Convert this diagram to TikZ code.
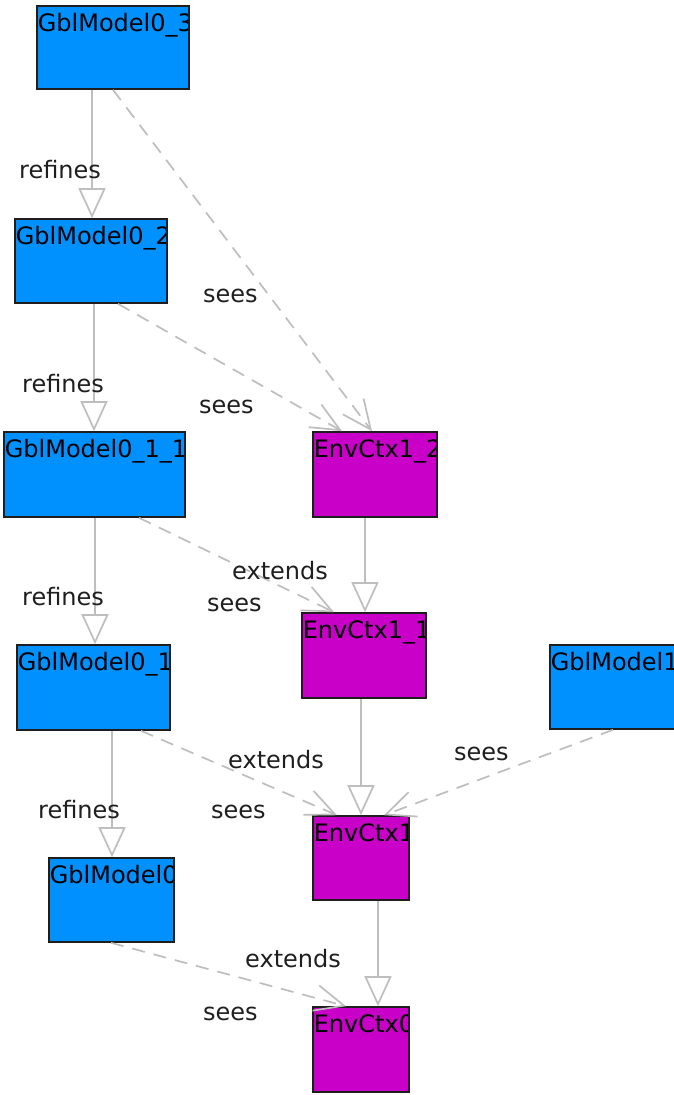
\documentclass[tikz,border=0pt]{standalone}
\usepackage{fontspec}
\setmainfont{DejaVu Sans}
\usetikzlibrary{arrows.meta}
\definecolor{blu}{RGB}{0,145,255}
\definecolor{mag}{RGB}{200,0,200}
\definecolor{edg}{RGB}{190,190,190}
\definecolor{bord}{RGB}{30,30,30}
\tikzset{
  lbl/.style={path picture={\node[anchor=base west, inner sep=0pt, text=black] at ([yshift=-25pt]path picture bounding box.north west) {#1};}},
  gbox/.style={draw=bord, line width=1.6pt, fill=blu, inner sep=0pt},
  ebox/.style={draw=bord, line width=1.6pt, fill=mag, inner sep=0pt},
  refedge/.style={draw=edg, line width=1.7pt, -{Triangle[open, length=30pt, width=27pt, fill=white]}},
  seeedge/.style={draw=edg, line width=1.7pt, dash pattern=on 13pt off 9pt, -{Straight Barb[length=29pt, width=26pt]}},
  elabel/.style={anchor=base west, inner sep=0pt, text=black!88}
}
\begin{document}
\begin{tikzpicture}[x=1pt, y=-1pt, font=\fontsize{24}{28}\selectfont]
\useasboundingbox[fill=white] (0,0) rectangle (673,1095);
% boxes
\node[gbox, minimum width=152pt, minimum height=83pt, lbl={GblModel0\_3}] (g3) at (113,47.5) {};
\node[gbox, minimum width=152pt, minimum height=84pt, lbl={GblModel0\_2}] (g2) at (91,261) {};
\node[gbox, minimum width=181pt, minimum height=85pt, lbl={GblModel0\_1\_1}] (g11) at (94.5,474.5) {};
\node[ebox, minimum width=124pt, minimum height=85pt, lbl={EnvCtx1\_2}] (e12) at (375,474.5) {};
\node[ebox, minimum width=124pt, minimum height=85pt, lbl={EnvCtx1\_1}] (e11) at (364,655.5) {};
\node[gbox, minimum width=153pt, minimum height=85pt, lbl={GblModel0\_1}] (g1) at (93.5,687.5) {};
\node[gbox, minimum width=125pt, minimum height=84pt, lbl={GblModel0}] (g0) at (111.5,900) {};
\node[ebox, minimum width=96pt, minimum height=84pt, lbl={EnvCtx1}] (e1) at (361,858) {};
\node[ebox, minimum width=96pt, minimum height=85pt, lbl={EnvCtx0}] (e0) at (361,1049.5) {};
\node[gbox, minimum width=126pt, minimum height=84pt, lbl={GblModel1}] (gm1) at (613,687) {};
% edges
\draw[refedge] ([xshift=-21pt]g3.south) -- ([xshift=1pt]g2.north);
\draw[seeedge] (g3.south) -- ([xshift=-3pt]e12.north);
\draw[refedge] ([xshift=3pt]g2.south) -- ([xshift=-0.5pt]g11.north);
\draw[seeedge] ([xshift=27pt]g2.south) -- ([xshift=-33pt]e12.north);
\draw[refedge] ([xshift=0.5pt]g11.south) -- ([xshift=1.5pt]g1.north);
\draw[seeedge] ([xshift=44.5pt]g11.south) -- ([xshift=-30pt]e11.north);
\draw[refedge] ([xshift=-10pt]e12.south) -- ([xshift=1pt]e11.north);
\draw[refedge] ([xshift=18.5pt]g1.south) -- ([xshift=0.5pt]g0.north);
\draw[seeedge] ([xshift=47.5pt]g1.south) -- ([xshift=-24pt]e1.north);
\draw[refedge] ([xshift=-3pt]e11.south) -- (e1.north);
\draw[seeedge] (gm1.south) -- ([xshift=23pt]e1.north);
\draw[seeedge] ([xshift=-0.5pt]g0.south) -- ([xshift=-15pt]e0.north);
\draw[refedge] ([xshift=17pt]e1.south) -- ([xshift=17pt]e0.north);
% labels
\node[elabel] (l1) at (19,178) {refines};
\node[elabel] (l2) at (203,302) {sees};
\node[elabel] (l3) at (22,392) {refines};
\node[elabel] (l4) at (199,413) {sees};
\node[elabel] (l5) at (22,605) {refines};
\node[elabel] (l6) at (207,611) {sees};
\node[elabel] (l7) at (232,579) {extends};
\node[elabel] (l8) at (38,818) {refines};
\node[elabel] (l9) at (211,818) {sees};
\node[elabel] (l10) at (228,768) {extends};
\node[elabel] (l11) at (454,760) {sees};
\node[elabel] (l12) at (203,1020) {sees};
\node[elabel] (l13) at (245,967) {extends};
\end{tikzpicture}
\end{document}
